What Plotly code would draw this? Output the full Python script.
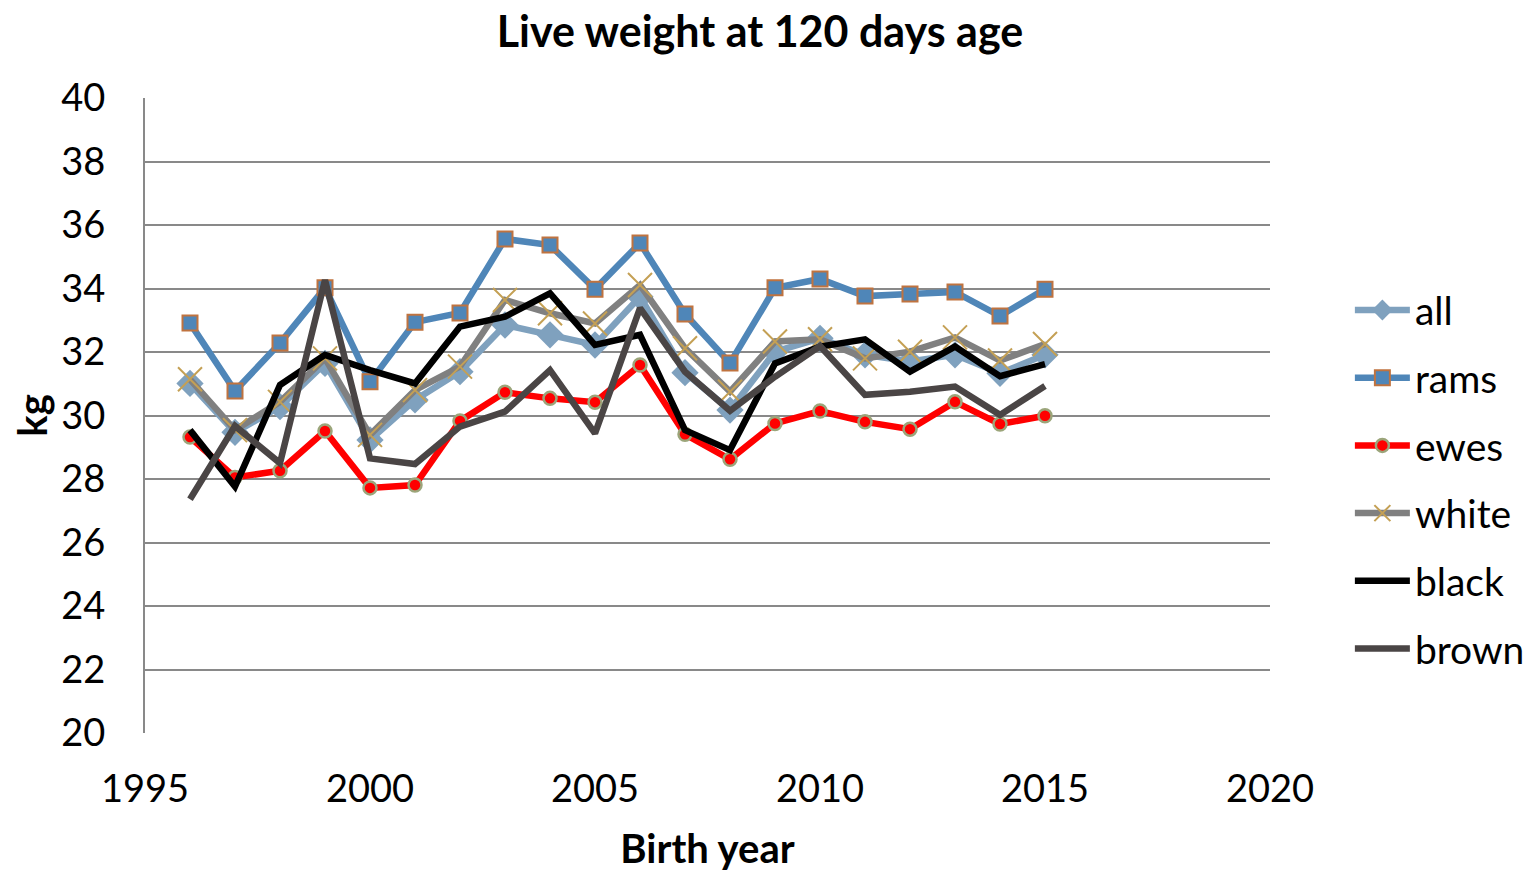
import plotly.graph_objects as go

years = list(range(1996, 2016))
all_w = [31.01, 29.47, 30.28, 31.64, 29.23, 30.49, 31.38, 32.85, 32.54, 32.22, 33.74, 31.35, 30.17, 32.01, 32.43, 31.91, 31.7, 31.91, 31.33, 31.91]
rams = [32.91, 30.77, 32.28, 34.02, 31.06, 32.94, 33.23, 35.56, 35.37, 33.98, 35.43, 33.2, 31.65, 34.02, 34.3, 33.76, 33.83, 33.89, 33.13, 33.98]
ewes = [29.32, 28.05, 28.26, 29.51, 27.72, 27.81, 29.83, 30.73, 30.54, 30.42, 31.59, 29.41, 28.62, 29.75, 30.14, 29.8, 29.57, 30.43, 29.73, 29.99]
white = [31.14, 29.54, 30.43, 31.8, 29.39, 30.8, 31.54, 33.64, 33.22, 32.9, 34.11, 32.12, 30.75, 32.33, 32.4, 31.8, 32.01, 32.46, 31.73, 32.25]
black = [29.54, 27.76, 30.96, 31.91, 31.43, 31.01, 32.8, 33.11, 33.85, 32.22, 32.54, 29.54, 28.91, 31.64, 32.17, 32.4, 31.38, 32.17, 31.24, 31.62]
brown = [27.36, 29.67, 28.5, 34.27, 28.65, 28.47, 29.65, 30.12, 31.43, 29.44, 33.38, 31.38, 30.15, 31.22, 32.19, 30.65, 30.75, 30.91, 30.02, 30.93]

x_ticks = [1995, 2000, 2005, 2010, 2015, 2020]
y_ticks = list(range(20, 41, 2))

FONT = "Lato, 'Open Sans', sans-serif"
fig = go.Figure()

LW = 6.5
series = [
    ("all", all_w, dict(color="#7FA1BE", width=LW), dict(symbol="diamond", size=21, color="#7FA1BE")),
    ("rams", rams, dict(color="#4F86B8", width=LW), dict(symbol="square", size=15, color="#4F86B8", line=dict(color="#C0733F", width=2))),
    ("ewes", ewes, dict(color="#FF0000", width=LW), dict(symbol="circle", size=13, color="#FF0000", line=dict(color="#9BA57A", width=2.5))),
    ("white", white, dict(color="#808080", width=LW), dict(symbol="x-thin-open", size=24, color="#C4A054", line=dict(color="#C4A054", width=2))),
    ("black", black, dict(color="#000000", width=LW), None),
    ("brown", brown, dict(color="#4A4545", width=LW), None),
]

for i, (name, vals, line, marker) in enumerate(series):
    fig.add_trace(go.Scatter(
        x=years, y=vals, name=name,
        mode="lines+markers" if marker else "lines",
        line=line, marker=marker, legendgroup=f"g{i}",
    ))

fig.update_layout(
    width=1538, height=872,
    paper_bgcolor="white", plot_bgcolor="white",
    margin=dict(l=137, r=276, t=90, b=147, autoexpand=False),
    font=dict(family=FONT, size=38, color="black"),
    title=dict(text="<b>Live weight at 120 days age</b>", x=752 / 1538, xanchor="center",
               y=1 - 24 / 872, yanchor="middle", font=dict(size=43)),
    xaxis=dict(range=[1995, 2020], tickvals=x_ticks, showgrid=False, zeroline=False,
               showline=False, ticks="", ticklabelstandoff=30, automargin=False,
               title=dict(text="<b>Birth year</b>", font=dict(size=40), standoff=25)),
    yaxis=dict(range=[20, 40], tickvals=y_ticks, showgrid=True, gridcolor="#898989", gridwidth=2,
               zeroline=False, showline=True, linecolor="#898989", linewidth=2, ticks="",
               ticklabelstandoff=30, automargin=False,
               title=dict(text="<b>kg</b>", font=dict(size=40), standoff=22)),
    legend=dict(x=1.071, xanchor="left", y=0.399, yanchor="middle", tracegroupgap=14,
                font=dict(size=39), itemwidth=55, bgcolor="rgba(0,0,0,0)"),
    showlegend=True,
)

fig.write_html("out.html")
